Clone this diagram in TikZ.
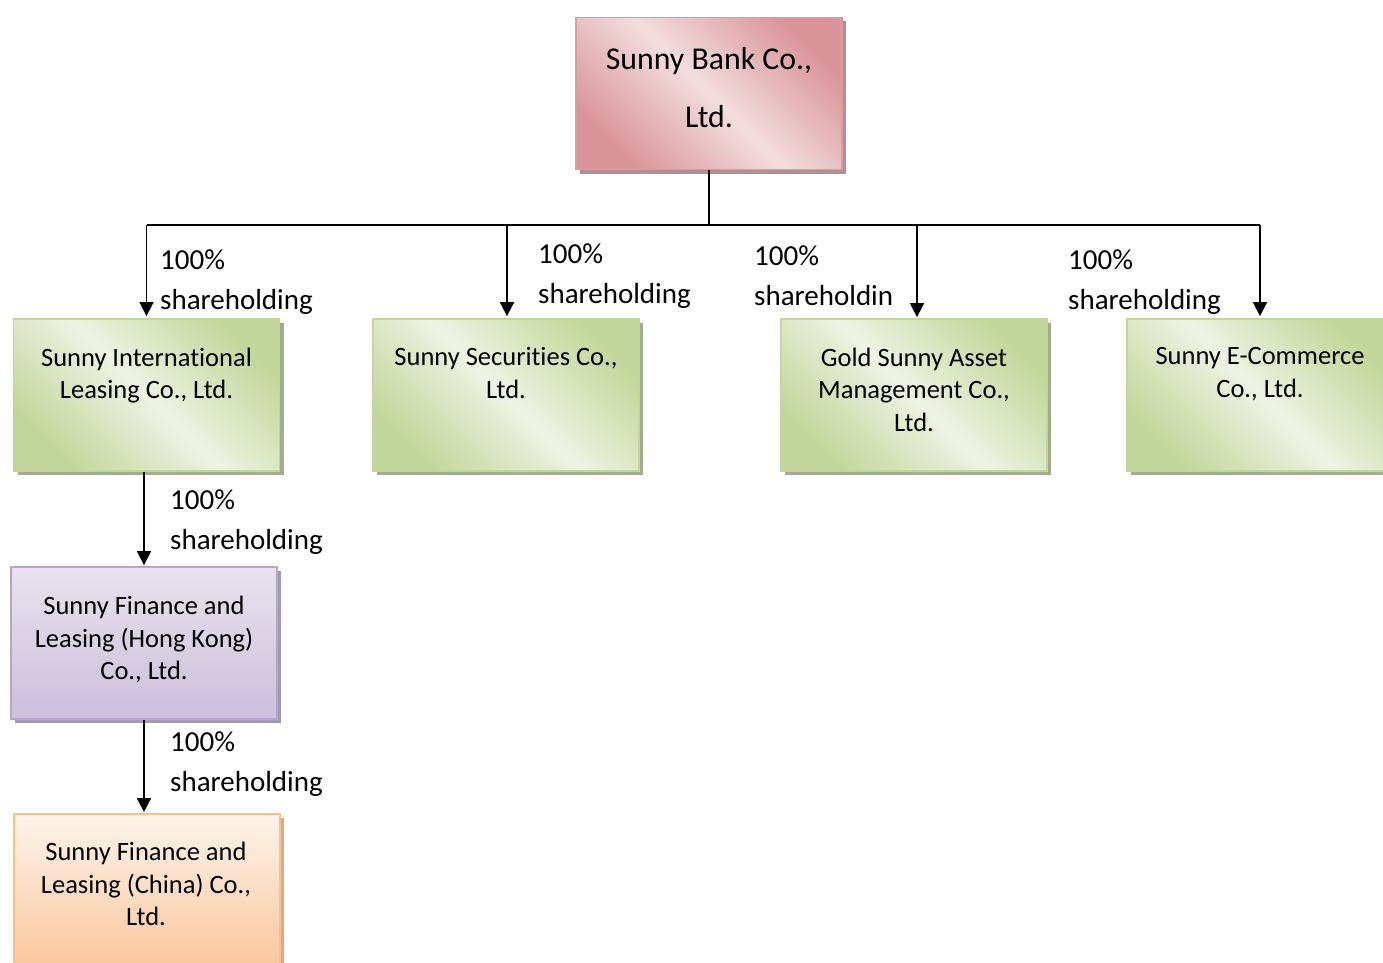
\documentclass[tikz,border=0pt]{standalone}
\usepackage{fontspec}
\setmainfont{Carlito}[Ligatures=NoCommon]
\usetikzlibrary{arrows.meta,shadows}
\definecolor{grDark}{HTML}{C3D69B}
\definecolor{grLight}{HTML}{EEF3E3}
\definecolor{grBorder}{HTML}{C3D69B}
\definecolor{grShadow}{HTML}{A2AC92}
\definecolor{pkDark}{HTML}{D9959A}
\definecolor{pkLight}{HTML}{F3DEDE}
\definecolor{pkBorder}{HTML}{DB9CA0}
\definecolor{pkShadow}{HTML}{B48E91}
\definecolor{puTop}{HTML}{E8E3EE}
\definecolor{puBot}{HTML}{CBBFDA}
\definecolor{puBorder}{HTML}{B6A6CB}
\definecolor{puShadow}{HTML}{A39BAD}
\definecolor{orTop}{HTML}{FEF4EC}
\definecolor{orBot}{HTML}{FAC79D}
\definecolor{orBorder}{HTML}{F9BF8F}
\definecolor{orShadow}{HTML}{D8AA88}
\begin{document}
\begin{tikzpicture}[x=1pt,y=-1pt,
  box/.style={rectangle, draw, line width=1.8pt, minimum width=266pt, minimum height=152pt, inner sep=0pt},
  greenbox/.style={box, draw=grBorder, top color=grDark, bottom color=grDark, middle color=grLight, shading angle=-45,
     drop shadow={shadow xshift=4pt, shadow yshift=-4pt, fill=grShadow, opacity=1}},
  pinkbox/.style={box, draw=pkBorder, top color=pkDark, bottom color=pkDark, middle color=pkLight, shading angle=-45,
     drop shadow={shadow xshift=4pt, shadow yshift=-4pt, fill=pkShadow, opacity=1}},
  purplebox/.style={box, draw=puBorder, top color=puTop, bottom color=puBot,
     drop shadow={shadow xshift=4pt, shadow yshift=-4pt, fill=puShadow, opacity=1}},
  orangebox/.style={box, draw=orBorder, top color=orTop, bottom color=orBot,
     drop shadow={shadow xshift=4pt, shadow yshift=-4pt, fill=orShadow, opacity=1}},
  txt/.style={font=\fontsize{26.5}{32.5}\selectfont, align=center, inner sep=0pt, anchor=north},
  toptxt/.style={font=\fontsize{31.8}{57.5}\selectfont, align=center, inner sep=0pt, anchor=north},
  lbl/.style={font=\fontsize{29}{39.5}\selectfont, align=left, inner sep=0pt, anchor=north west},
  conn/.style={line width=1.7pt, draw=black},
  arr/.style={conn, -{Triangle[width=14pt,length=14pt]}}
]
\useasboundingbox (0,0) rectangle (1383,963);

% boxes
\node[pinkbox] (bank) at (709,93.5) {};
\node[greenbox] (b1) at (146.5,395) {};
\node[greenbox] (b2) at (506,395) {};
\node[greenbox] (b3) at (914,395) {};
\node[greenbox] (b4) at (1260,395) {};
\node[purplebox] (hk) at (144,643) {};
\node[orangebox] (cn) at (147,890) {};

% box texts
\node[toptxt] (tbank) at (709,47.5) {Sunny Bank Co.,\\Ltd.};
\node[txt] (t1) at (146.5,347.5) {Sunny International\\Leasing Co., Ltd.};
\node[txt] (t2) at (506,347.5) {Sunny Securities Co.,\\Ltd.};
\node[txt] (t3) at (914,347.5) {Gold Sunny Asset\\Management Co.,\\Ltd.};
\node[txt] (t4) at (1260,347.5) {Sunny E-Commerce\\Co., Ltd.};
\node[txt] (thk) at (144,596) {Sunny Finance and\\Leasing (Hong Kong)\\Co., Ltd.};
\node[txt] (tcn) at (146,842) {Sunny Finance and\\Leasing (China) Co.,\\Ltd.};

% connectors
\coordinate (hub) at (709,225);
\draw[conn] (bank.south) -- (hub);
\draw[conn] (b1.north |- hub) -- (b4.north |- hub);
\draw[arr] (b1.north |- hub) -- ([yshift=2pt]b1.north);
\draw[arr] ([xshift=1pt]b2.north |- hub) -- ([xshift=1pt,yshift=2pt]b2.north);
\draw[arr] ([xshift=3pt]b3.north |- hub) -- ([xshift=3pt,yshift=1pt]b3.north);
\draw[arr] (b4.north |- hub) -- ([yshift=2pt]b4.north);
\draw[arr] (hk.north |- b1.south) -- ([yshift=1pt]hk.north);
\draw[arr] (hk.south) -- ([yshift=1pt]hk.south |- cn.north);

% labels
\node[lbl] (l1) at (160,250) {100\%\\shareholding};
\node[lbl] (l2) at (538,244) {100\%\\shareholding};
\node[lbl] (l3) at (754,246) {100\%\\shareholdin};
\node[lbl] (l4) at (1068,250) {100\%\\shareholding};
\node[lbl] (l5) at (170,490) {100\%\\shareholding};
\node[lbl] (l6) at (170,732) {100\%\\shareholding};
\end{tikzpicture}
\end{document}
